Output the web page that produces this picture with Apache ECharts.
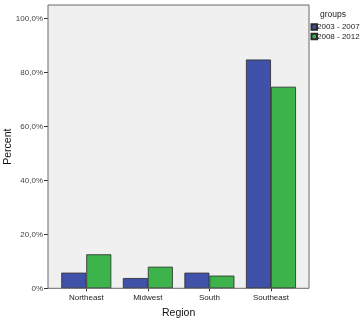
<!DOCTYPE html>
<html><head><meta charset="utf-8">
<script src="https://cdn.jsdelivr.net/npm/echarts@6/dist/echarts.min.js"></script>
<style>html,body{margin:0;padding:0;background:#fff}#c{width:364px;height:322px}</style>
</head><body><div id="c"></div>
<script>
var categories = ['Northeast', 'Midwest', 'South', 'Southeast'];
var groupNames = ['2003 - 2007', '2008 - 2012'];
var values2003 = [5.8, 3.8, 5.8, 84.8];
var values2008 = [12.6, 8.0, 4.7, 74.7];
var yTicks = [0, 20, 40, 60, 80, 100];
var yTickLabels = ['0%', '20,0%', '40,0%', '60,0%', '80,0%', '100,0%'];

var FONT = '"Liberation Sans", Arial, sans-serif';
var chart = echarts.init(document.getElementById('c'));
chart.setOption({
  animation: false,
  backgroundColor: '#fff',
  title: {text: 'groups', left: 320, top: 10, padding: 0,
    textStyle: {fontFamily: FONT, fontSize: 8.5, fontWeight: 'normal', color: '#222'}},
  legend: {
    orient: 'vertical', left: 310.5, top: 23, padding: 0, itemGap: 1.5,
    itemWidth: 5.5, itemHeight: 5.5, icon: 'rect',
    textStyle: {fontFamily: FONT, fontSize: 8, color: '#222', padding: [0, 0, 0, -5]},
    data: groupNames
  },
  graphic: [
    {type: 'rect', z: -10, shape: {x: 48, y: 5, width: 261, height: 283.3},
     style: {fill: '#F0F0F0', stroke: null}},
    {type: 'rect', z: 100, shape: {x: 48, y: 5, width: 261, height: 283.3},
     style: {fill: null, stroke: '#6b6b6b', lineWidth: 1}}
  ],
  grid: [
    {left: 48, top: 5, width: 261, bottom: 33.7, outerBoundsMode: 'none', containLabel: false},
    {left: 55.5, top: 5, width: 246.25, bottom: 33.7, outerBoundsMode: 'none', containLabel: false}
  ],
  xAxis: [
    {type: 'value', gridIndex: 0, show: false, min: 0, max: 1},
    {
      type: 'category', gridIndex: 1, data: categories,
      axisLine: {show: false},
      axisTick: {show: true, alignWithLabel: true, length: 3, lineStyle: {color: '#333'}},
      axisLabel: {fontFamily: FONT, fontSize: 8, color: '#222', margin: 5},
      name: 'Region', nameLocation: 'middle', nameGap: 19, nameMoveOverlap: false,
      nameTextStyle: {fontFamily: FONT, fontSize: 10.5, color: '#111'}
    }
  ],
  yAxis: [
    {
      type: 'value', gridIndex: 0, min: 0, max: 105, position: 'left',
      axisLine: {show: false, onZero: false},
      splitLine: {show: false},
      axisTick: {show: true, inside: false, length: 4, customValues: yTicks, lineStyle: {color: '#333'}},
      axisLabel: {fontFamily: FONT, fontSize: 8, color: '#444', margin: 5,
        customValues: yTicks,
        formatter: function (v) { var i = yTicks.indexOf(v); return i >= 0 ? yTickLabels[i] : ''; }},
      name: 'Percent', nameLocation: 'middle', nameGap: 34, nameMoveOverlap: false,
      nameTextStyle: {fontFamily: FONT, fontSize: 10.5, color: '#111'}
    },
    {type: 'value', gridIndex: 1, min: 0, max: 105, show: false}
  ],
  series: [
    {name: groupNames[0], type: 'bar', xAxisIndex: 1, yAxisIndex: 1, data: values2003,
     barWidth: 25, barGap: '0%',
     itemStyle: {color: '#3F51A8', borderColor: '#2a2a2a', borderWidth: 0.8}},
    {name: groupNames[1], type: 'bar', xAxisIndex: 1, yAxisIndex: 1, data: values2008,
     barWidth: 25, barGap: '0%',
     itemStyle: {color: '#3CB44B', borderColor: '#2a2a2a', borderWidth: 0.8}}
  ]
});
</script></body></html>
